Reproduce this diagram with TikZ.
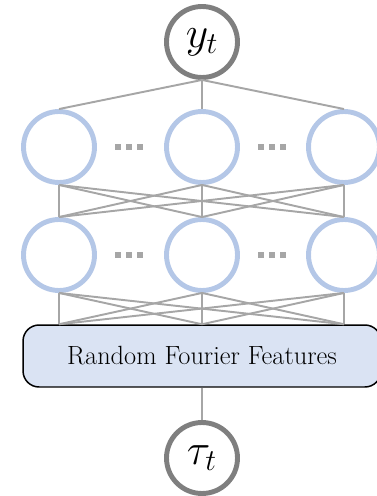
\documentclass[tikz,border=0pt]{standalone}
\usepackage{xcolor}
\usepackage{tikz}
\usetikzlibrary{calc}

\definecolor{ringgray}{HTML}{7F7F7F}
\definecolor{wiregray}{HTML}{A6A6A6}
\definecolor{hidblue}{HTML}{B4C7E7}
\definecolor{rffblue}{HTML}{DAE3F3}

\begin{document}
\begin{tikzpicture}[x=0.02cm,y=-0.02cm,
		io/.style={circle,draw=ringgray,line width=2.8pt,inner sep=0pt,minimum size=1.42cm,font=\fontsize{23}{27}\selectfont},
		hid/.style={circle,draw=hidblue,line width=2.8pt,inner sep=0pt,minimum size=1.42cm},
		wire/.style={draw=wiregray,line width=1.1pt}]
		\def\dz{3.3}
		\useasboundingbox (0,0) rectangle (377,496);
		\clip (0,0) rectangle (377,496);
		% output, hidden layers, input
		\node[io] (yt) at (202,42) {$y_t$};
		\foreach \n/\x in {1/59,2/202,3/344} {
			\node[hid] (u\n) at (\x,147) {};
			\node[hid] (l\n) at (\x,255) {};
		}
		\node[draw=black,line width=0.85pt,fill=rffblue,rounded corners=0.32cm,
			minimum width=7.16cm,minimum height=1.24cm,inner sep=0pt,
			font=\fontsize{15}{18}\selectfont] (rff) at (202,356) {Random Fourier Features};
		\node[io] (tau) at (202,458) {$\tau_t$};
		% wires
		\foreach \i in {1,2,3} {
			\draw[wire] (yt.south) -- (u\i.north);
			\foreach \j in {1,2,3} {
				\draw[wire] (u\i.south) -- (l\j.north);
				\draw[wire] (l\i.south) -- (l\j |- rff.north);
			}
		}
		\draw[wire] (rff.south) -- (tau.north);
		% dots
		\foreach \y in {147,255}
			\foreach \x in {118,129,140,261,272,283}
				\fill[wiregray] (\x-\dz,\y-\dz) rectangle (\x+\dz,\y+\dz);
	\end{tikzpicture}
\end{document}
